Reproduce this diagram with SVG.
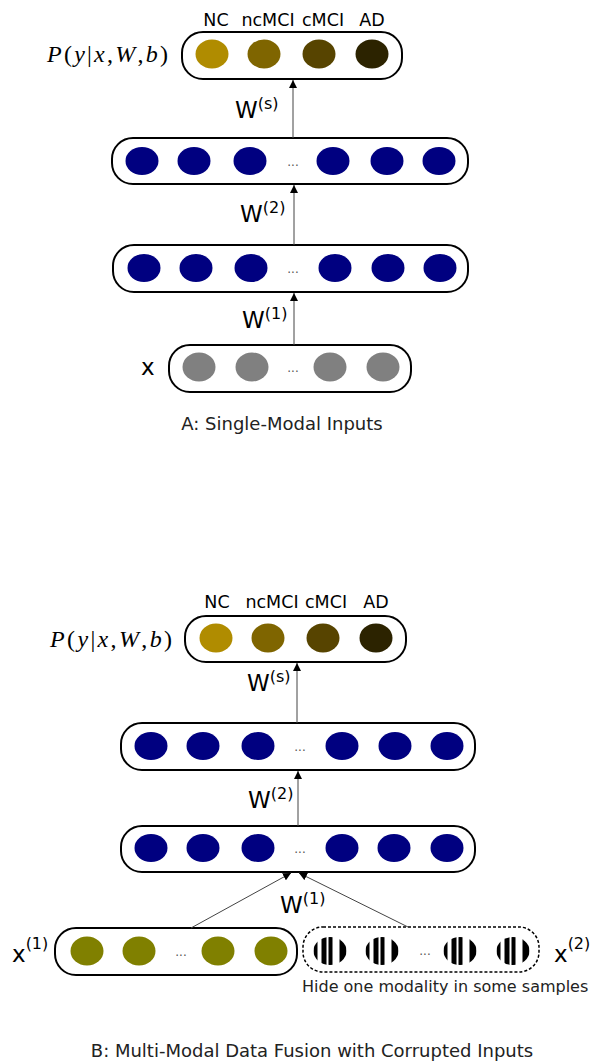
<svg xmlns="http://www.w3.org/2000/svg" xmlns:xlink="http://www.w3.org/1999/xlink" width="590" height="1064" viewBox="0 0 590 1064">
<style>
.box{fill:#fff;stroke:#000;stroke-width:2}
.dbox{fill:#fff;stroke:#000;stroke-width:1.5;stroke-dasharray:3 2}
.blue{fill:#000080}
.gray{fill:#808080}
.olive{fill:#808000}
.c1{fill:#b08c00}.c2{fill:#7f6500}.c3{fill:#574400}.c4{fill:#2c2300}
.lbl{font-family:"DejaVu Sans",sans-serif;font-size:17.5px;fill:#000;text-anchor:middle}
.cap{font-family:"DejaVu Sans",sans-serif;font-size:18px;fill:#222;text-anchor:middle}
.note{font-family:"DejaVu Sans",sans-serif;font-size:16px;fill:#222}
.w{font-family:"DejaVu Sans",sans-serif;font-size:23px;fill:#000}
.sup{font-size:16px}
.dots{font-family:"DejaVu Sans",sans-serif;font-size:12px;fill:#555;text-anchor:middle}
.math{font-family:"Liberation Serif","DejaVu Serif",serif;font-size:24px;fill:#000}
.conn{stroke:#444;stroke-width:1;fill:none}
</style>
<defs>
<marker id="ah" viewBox="0 0 10 10" refX="10" refY="5" markerWidth="8" markerHeight="8" markerUnits="userSpaceOnUse" orient="auto">
<path d="M0,0 L10,5 L0,10 Z" fill="#000"/>
</marker>
<clipPath id="ec"><ellipse cx="0" cy="0" rx="16.5" ry="14"/></clipPath>
<g id="striped">
<g clip-path="url(#ec)" fill="#000">
<rect x="-16.5" y="-14" width="4" height="28"/>
<rect x="-8.5" y="-14" width="5" height="28"/>
<rect x="-1.5" y="-14" width="4" height="28"/>
<rect x="9.5" y="-14" width="7" height="28"/>
</g>
</g>
</defs>

<!-- Section A -->
<g id="A_output">
<text class="lbl" x="216" y="26">NC</text>
<text class="lbl" x="268" y="26">ncMCI</text>
<text class="lbl" x="323" y="26">cMCI</text>
<text class="lbl" x="372" y="26">AD</text>
<text class="math" x="47" y="62" textLength="121" lengthAdjust="spacing"><tspan font-style="italic">P</tspan>(<tspan font-style="italic">y</tspan>|<tspan font-style="italic">x</tspan>,<tspan font-style="italic">W</tspan>,<tspan font-style="italic">b</tspan>)</text>
<rect class="box" x="182" y="32" width="220" height="47" rx="21"/>
<ellipse class="c1" cx="212" cy="54" rx="16.5" ry="14.5"/>
<ellipse class="c2" cx="264" cy="54" rx="16.5" ry="14.5"/>
<ellipse class="c3" cx="319" cy="54" rx="16.5" ry="14.5"/>
<ellipse class="c4" cx="372" cy="54" rx="16.5" ry="14.5"/>
</g>
<g id="A_hidden1">
<rect class="box" x="112" y="138" width="356" height="46" rx="21"/>
<ellipse class="blue" cx="142" cy="161" rx="16.5" ry="14"/>
<ellipse class="blue" cx="194" cy="161" rx="16.5" ry="14"/>
<ellipse class="blue" cx="250" cy="161" rx="16.5" ry="14"/>
<text class="dots" x="293" y="166">...</text>
<ellipse class="blue" cx="333" cy="161" rx="16.5" ry="14"/>
<ellipse class="blue" cx="387" cy="161" rx="16.5" ry="14"/>
<ellipse class="blue" cx="439" cy="161" rx="16.5" ry="14"/>
</g>
<g id="A_hidden2">
<rect class="box" x="113" y="245" width="355" height="47" rx="21"/>
<ellipse class="blue" cx="144" cy="268" rx="16.5" ry="14"/>
<ellipse class="blue" cx="196" cy="268" rx="16.5" ry="14"/>
<ellipse class="blue" cx="251" cy="268" rx="16.5" ry="14"/>
<text class="dots" x="293" y="273">...</text>
<ellipse class="blue" cx="335" cy="268" rx="16.5" ry="14"/>
<ellipse class="blue" cx="388" cy="268" rx="16.5" ry="14"/>
<ellipse class="blue" cx="440" cy="268" rx="16.5" ry="14"/>
</g>
<g id="A_input">
<text class="w" x="141" y="375">x</text>
<rect class="box" x="169" y="345" width="242" height="47" rx="21"/>
<ellipse class="gray" cx="199" cy="367" rx="16.5" ry="14.5"/>
<ellipse class="gray" cx="252" cy="367" rx="16.5" ry="14.5"/>
<text class="dots" x="293" y="372">...</text>
<ellipse class="gray" cx="330" cy="367" rx="16.5" ry="14.5"/>
<ellipse class="gray" cx="383" cy="367" rx="16.5" ry="14.5"/>
</g>
<text class="cap" x="282" y="430">A: Single-Modal Inputs</text>

<!-- Section B -->
<g id="B_output">
<text class="lbl" x="217" y="608">NC</text>
<text class="lbl" x="272" y="608">ncMCI</text>
<text class="lbl" x="326" y="608">cMCI</text>
<text class="lbl" x="376" y="608">AD</text>
<text class="math" x="50" y="647" textLength="122" lengthAdjust="spacing"><tspan font-style="italic">P</tspan>(<tspan font-style="italic">y</tspan>|<tspan font-style="italic">x</tspan>,<tspan font-style="italic">W</tspan>,<tspan font-style="italic">b</tspan>)</text>
<rect class="box" x="185" y="616" width="221" height="46" rx="21"/>
<ellipse class="c1" cx="216" cy="638" rx="16.5" ry="14.5"/>
<ellipse class="c2" cx="268" cy="638" rx="16.5" ry="14.5"/>
<ellipse class="c3" cx="323" cy="638" rx="16.5" ry="14.5"/>
<ellipse class="c4" cx="376" cy="638" rx="16.5" ry="14.5"/>
</g>
<g id="B_hidden1">
<rect class="box" x="121" y="723" width="354" height="47" rx="21"/>
<ellipse class="blue" cx="151" cy="746" rx="16.5" ry="14"/>
<ellipse class="blue" cx="203" cy="746" rx="16.5" ry="14"/>
<ellipse class="blue" cx="258" cy="746" rx="16.5" ry="14"/>
<text class="dots" x="300" y="751">...</text>
<ellipse class="blue" cx="342" cy="746" rx="16.5" ry="14"/>
<ellipse class="blue" cx="395" cy="746" rx="16.5" ry="14"/>
<ellipse class="blue" cx="447" cy="746" rx="16.5" ry="14"/>
</g>
<g id="B_hidden2">
<rect class="box" x="121" y="826" width="354" height="46" rx="21"/>
<ellipse class="blue" cx="151" cy="848" rx="16.5" ry="14"/>
<ellipse class="blue" cx="203" cy="848" rx="16.5" ry="14"/>
<ellipse class="blue" cx="258" cy="848" rx="16.5" ry="14"/>
<text class="dots" x="300" y="853">...</text>
<ellipse class="blue" cx="342" cy="848" rx="16.5" ry="14"/>
<ellipse class="blue" cx="394" cy="848" rx="16.5" ry="14"/>
<ellipse class="blue" cx="447" cy="848" rx="16.5" ry="14"/>
</g>
<g id="B_input1">
<text class="w" x="12" y="962">x<tspan class="sup" dy="-13">(1)</tspan></text>
<rect class="box" x="55" y="928" width="242" height="47" rx="21"/>
<ellipse class="olive" cx="87" cy="951" rx="16.5" ry="14.5"/>
<ellipse class="olive" cx="139" cy="951" rx="16.5" ry="14.5"/>
<text class="dots" x="181" y="956">...</text>
<ellipse class="olive" cx="218" cy="951" rx="16.5" ry="14.5"/>
<ellipse class="olive" cx="271" cy="951" rx="16.5" ry="14.5"/>
</g>
<g id="B_input2">
<rect class="dbox" x="303" y="927" width="236" height="45" rx="20"/>
<use xlink:href="#striped" x="330" y="951"/>
<use xlink:href="#striped" x="382" y="951"/>
<text class="dots" x="425" y="955">...</text>
<use xlink:href="#striped" x="460" y="951"/>
<use xlink:href="#striped" x="513" y="951"/>
<text class="w" x="554" y="962">x<tspan class="sup" dy="-13">(2)</tspan></text>
<text class="note" x="302" y="992">Hide one modality in some samples</text>
</g>
<text class="cap" x="312" y="1057">B: Multi-Modal Data Fusion with Corrupted Inputs</text>

<!-- Connectors -->
<g id="connectors">
<line class="conn" x1="293" y1="138" x2="293" y2="80" marker-end="url(#ah)"/>
<line class="conn" x1="294" y1="245" x2="294" y2="185" marker-end="url(#ah)"/>
<line class="conn" x1="294" y1="345" x2="294" y2="293" marker-end="url(#ah)"/>
<line class="conn" x1="297" y1="723" x2="297" y2="663" marker-end="url(#ah)"/>
<line class="conn" x1="298" y1="826" x2="298" y2="771" marker-end="url(#ah)"/>
<line class="conn" x1="191" y1="928" x2="291" y2="873" marker-end="url(#ah)"/>
<line class="conn" x1="408" y1="927" x2="299" y2="873" marker-end="url(#ah)"/>
<text class="w" x="235" y="118">W<tspan class="sup" dy="-9">(s)</tspan></text>
<text class="w" x="240" y="222">W<tspan class="sup" dy="-9">(2)</tspan></text>
<text class="w" x="242" y="328">W<tspan class="sup" dy="-9">(1)</tspan></text>
<text class="w" x="247" y="691">W<tspan class="sup" dy="-9">(s)</tspan></text>
<text class="w" x="248" y="808">W<tspan class="sup" dy="-9">(2)</tspan></text>
<text class="w" x="280" y="913">W<tspan class="sup" dy="-9">(1)</tspan></text>
</g>
</svg>
